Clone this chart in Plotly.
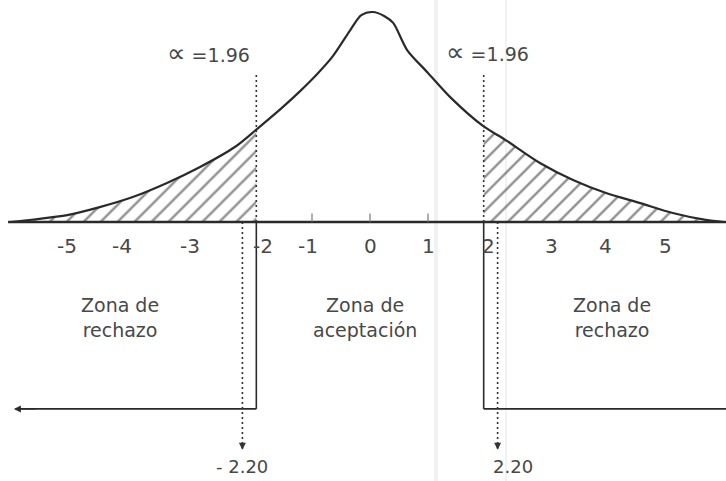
import plotly.graph_objects as go

# ---- data ----
# curve: x in standard units, y relative height (peak = 1)
curve_x = [-6.2, -5.8, -5.22, -4.66, -4.09, -3.5, -2.93, -2.33, -1.96, -1.5, -1.21,
           -0.91, -0.64, -0.34, -0.15, 0.05, 0.25, 0.4, 0.64, 1.0, 1.4, 1.96,
           2.34, 2.93, 3.5, 4.07, 4.66, 5.22, 5.79, 6.1]
curve_y = [0.0, 0.012, 0.033, 0.071, 0.119, 0.186, 0.262, 0.357, 0.44, 0.548, 0.622,
           0.705, 0.79, 0.914, 0.985, 1.0, 0.98, 0.948, 0.819, 0.71, 0.59, 0.455,
           0.39, 0.281, 0.2, 0.138, 0.09, 0.043, 0.01, 0.0]
critical = 1.96          # alpha = 1.96
observed = 2.20          # marked values -2.20 / 2.20
tick_values = [-5, -4, -3, -2, -1, 0, 1, 2, 3, 4, 5]
tick_labels = ["-5", "-4", "-3", "-2", "-1", "0", "1", "2", "3", "4", "5"]
tick_marks = [-1, 0, 1]
alpha_symbol = "∝"
alpha_text = " =1.96"
zone_labels = ["Zona de<br>rechazo", "Zona de<br>aceptación", "Zona de<br>rechazo"]
obs_labels = ["- 2.20", "2.20"]

# ---- layout constants (pixel mapping / hand-lettering offsets) ----
X_MIN, X_MAX = -370 / 58, 356 / 58
Y_MIN, Y_MAX = (222 - 481) / 210, 222 / 210
AXIS_LEFT = -6.24
BRACKET_Y = -0.89
ARROW_END_Y = -1.08
DOT_TOP = 0.70
LABEL_SHIFT = [-13, -16, -6, 9, -4, 0, 0, 2, 7, 3, 5]
INK = "#2a2a2a"
TXT = "#484848"
FONT = "DejaVu Sans"

fig = go.Figure()

# hatched tails
left_x = [x for x in curve_x if x <= -critical]
left_y = [y for x, y in zip(curve_x, curve_y) if x <= -critical]
right_x = [x for x in curve_x if x >= critical]
right_y = [y for x, y in zip(curve_x, curve_y) if x >= critical]
for tx, ty in [(left_x, left_y), (right_x, right_y)]:
    fig.add_trace(go.Scatter(
        x=tx, y=ty, mode="lines", line=dict(width=0, shape="spline", smoothing=0.8),
        fill="tozeroy", fillcolor="rgba(0,0,0,0)",
        fillpattern=dict(shape="/", size=12, solidity=0.2, fgcolor="#222222",
                         bgcolor="rgba(0,0,0,0)", fillmode="overlay"),
        hoverinfo="skip", showlegend=False))

# main curve
fig.add_trace(go.Scatter(x=curve_x, y=curve_y, mode="lines",
                         line=dict(color=INK, width=2.2, shape="spline", smoothing=0.8),
                         hoverinfo="skip", showlegend=False))

# horizontal axis
fig.add_trace(go.Scatter(x=[AXIS_LEFT, X_MAX], y=[0, 0], mode="lines",
                         line=dict(color=INK, width=2.6), hoverinfo="skip", showlegend=False))

# tick marks
for t in tick_marks:
    fig.add_trace(go.Scatter(x=[t, t], y=[0, 0.04], mode="lines",
                             line=dict(color="#777", width=1.2), hoverinfo="skip", showlegend=False))

# dotted critical lines (above axis) and solid bracket lines
for s in (-1, 1):
    fig.add_trace(go.Scatter(x=[s * critical, s * critical], y=[DOT_TOP, 0], mode="lines",
                             line=dict(color="#333", width=1.6, dash="2px,3px"),
                             hoverinfo="skip", showlegend=False))
    fig.add_trace(go.Scatter(x=[s * critical, s * critical], y=[0, BRACKET_Y], mode="lines",
                             line=dict(color=INK, width=1.6), hoverinfo="skip", showlegend=False))
    edge = AXIS_LEFT + 0.13 if s < 0 else X_MAX
    fig.add_trace(go.Scatter(x=[s * critical, edge], y=[BRACKET_Y, BRACKET_Y], mode="lines",
                             line=dict(color=INK, width=1.8), hoverinfo="skip", showlegend=False))
    # dotted observed value lines
    fig.add_trace(go.Scatter(x=[s * observed, s * observed], y=[0, ARROW_END_Y], mode="lines",
                             line=dict(color="#333", width=1.6, dash="2px,3px"),
                             hoverinfo="skip", showlegend=False))
    fig.add_annotation(x=s * observed, y=ARROW_END_Y - 0.005, ax=s * observed, ay=ARROW_END_Y + 0.03,
                       xref="x", yref="y", axref="x", ayref="y", showarrow=True, text="",
                       arrowhead=2, arrowsize=1, arrowwidth=1.4, arrowcolor="#333")

# left bracket arrow
fig.add_annotation(x=AXIS_LEFT + 0.1, y=BRACKET_Y, ax=AXIS_LEFT + 0.5, ay=BRACKET_Y,
                   xref="x", yref="y", axref="x", ayref="y", showarrow=True, text="",
                   arrowhead=2, arrowsize=1, arrowwidth=1.4, arrowcolor=INK)

# tick labels
for v, lab, sh in zip(tick_values, tick_labels, LABEL_SHIFT):
    fig.add_annotation(x=v, y=-0.114, text=lab, showarrow=False, xshift=sh,
                       font=dict(family=FONT, size=20, color=TXT))

# alpha labels
alpha_label = "<span style='font-size:26px'>" + alpha_symbol + "</span>" + alpha_text
fig.add_annotation(x=-critical, y=0.805, text=alpha_label, showarrow=False,
                   xshift=-48, font=dict(family=FONT, size=19, color=TXT))
fig.add_annotation(x=critical, y=0.81, text=alpha_label, showarrow=False,
                   xshift=4, font=dict(family=FONT, size=19, color=TXT))

# zone labels
for xc, lab in zip([-4.31, -0.09, 4.17], zone_labels):
    fig.add_annotation(x=xc, y=-0.455, text=lab, showarrow=False,
                       font=dict(family=FONT, size=19, color=TXT))

# observed value labels
fig.add_annotation(x=-observed, y=-1.165, text=obs_labels[0], showarrow=False,
                   font=dict(family=FONT, size=18, color=TXT))
fig.add_annotation(x=observed, y=-1.165, text=obs_labels[1], showarrow=False, xshift=15,
                   font=dict(family=FONT, size=18, color=TXT))

# faint scan fold lines
fig.add_shape(type="line", xref="paper", yref="paper", x0=436 / 726, x1=436 / 726, y0=0, y1=1,
              line=dict(color="rgba(0,0,0,0.05)", width=4), layer="below")
fig.add_shape(type="line", xref="paper", yref="paper", x0=506 / 726, x1=506 / 726, y0=0, y1=1,
              line=dict(color="rgba(0,0,0,0.10)", width=1), layer="below")

fig.update_layout(
    width=726, height=481, margin=dict(l=0, r=0, t=0, b=0),
    paper_bgcolor="white", plot_bgcolor="white",
    xaxis=dict(range=[X_MIN, X_MAX], visible=False, fixedrange=True),
    yaxis=dict(range=[Y_MIN, Y_MAX], visible=False, fixedrange=True),
    showlegend=False,
)

fig.write_html("out.html", config={"displayModeBar": False},
               post_script="document.body.style.margin='0';")
